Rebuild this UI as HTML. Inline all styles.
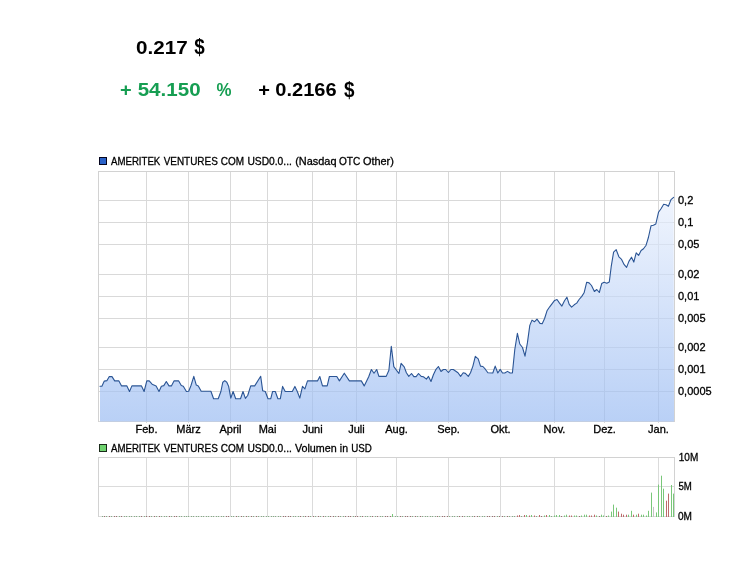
<!DOCTYPE html>
<html lang="de"><head><meta charset="utf-8"><title>AMERITEK VENTURES Chart</title>
<style>
html,body{margin:0;padding:0;background:#fff;}
body{width:753px;height:566px;overflow:hidden;position:relative;font-family:"Liberation Sans",sans-serif;}
svg{position:absolute;left:0;top:0;display:block}
.big{font-family:"Liberation Sans",sans-serif;font-weight:bold;font-size:19px;}
.ax{font-family:"Liberation Sans",sans-serif;font-size:11px;fill:#000;stroke:#000;stroke-width:0.3px;}
</style></head><body>
<svg width="753" height="566" viewBox="0 0 753 566">
<defs><linearGradient id="g" x1="0" y1="171" x2="0" y2="421" gradientUnits="userSpaceOnUse">
<stop offset="0" stop-color="#f2f6fe"/><stop offset="1" stop-color="#98baf2"/></linearGradient></defs>
<rect width="753" height="566" fill="#fff"/>
<text class="big" x="136.1" y="53.6" fill="#000" style="font-size:19px" textLength="51.7" lengthAdjust="spacingAndGlyphs">0.217</text>
<text class="big" x="194.2" y="54.0" fill="#000" style="font-size:22px" textLength="10.5" lengthAdjust="spacingAndGlyphs">$</text>
<text class="big" x="120.1" y="96.0" fill="#169e52" style="font-size:19px" textLength="11.7" lengthAdjust="spacingAndGlyphs">+</text>
<text class="big" x="137.7" y="96.0" fill="#169e52" style="font-size:19px" textLength="62.9" lengthAdjust="spacingAndGlyphs">54.150</text>
<text class="big" x="216.4" y="96.0" fill="#169e52" style="font-size:19px" textLength="15.0" lengthAdjust="spacingAndGlyphs">%</text>
<text class="big" x="258.2" y="96.0" fill="#000" style="font-size:19px" textLength="11.7" lengthAdjust="spacingAndGlyphs">+</text>
<text class="big" x="275.3" y="96.0" fill="#000" style="font-size:19px" textLength="61.3" lengthAdjust="spacingAndGlyphs">0.2166</text>
<text class="big" x="344.0" y="96.6" fill="#000" style="font-size:22.5px" textLength="10.5" lengthAdjust="spacingAndGlyphs">$</text>
<rect x="99.5" y="157.5" width="7" height="7" fill="#2a62c8" stroke="#05051e" stroke-width="1"/>
<text class="ax" x="111.0" y="165" textLength="49.3" lengthAdjust="spacingAndGlyphs">AMERITEK</text><text class="ax" x="163.7" y="165" textLength="54.1" lengthAdjust="spacingAndGlyphs">VENTURES</text><text class="ax" x="220.8" y="165" textLength="23.3" lengthAdjust="spacingAndGlyphs">COM</text><text class="ax" x="247.4" y="165" textLength="44.5" lengthAdjust="spacingAndGlyphs">USD0.0...</text><text class="ax" x="295.2" y="165" textLength="41.3" lengthAdjust="spacingAndGlyphs">(Nasdaq</text><text class="ax" x="339.0" y="165" textLength="21.3" lengthAdjust="spacingAndGlyphs">OTC</text><text class="ax" x="362.9" y="165" textLength="31.0" lengthAdjust="spacingAndGlyphs">Other)</text>
<path d="M146.5,171V423 M188.5,171V423 M230.5,171V423 M267.5,171V423 M312.5,171V423 M356.5,171V423 M396.5,171V423 M448.5,171V423 M500.5,171V423 M554.5,171V423 M604.5,171V423 M658.5,171V423 M98,200.5H675 M98,222.5H675 M98,244.5H675 M98,274.5H675 M98,296.5H675 M98,318.5H675 M98,347.5H675 M98,369.5H675 M98,391.5H675 M98,421.5H675" stroke="#d9d9d9" stroke-width="1" fill="none" shape-rendering="crispEdges"/>
<path d="M100,421.6 L100.0,386.2 L101.9,386.2 L104.3,381.1 L107.0,380.6 L109.3,376.6 L112.0,376.6 L114.7,380.9 L118.9,380.9 L121.6,385.9 L126.9,385.9 L129.5,391.5 L131.9,385.9 L141.5,385.9 L144.1,391.5 L146.8,380.9 L149.2,380.9 L152.1,384.2 L156.1,385.9 L159.0,391.5 L161.4,386.2 L163.8,385.6 L166.3,381.5 L169.0,385.9 L171.4,385.9 L174.0,380.9 L178.7,380.9 L181.3,385.5 L183.3,386.2 L186.4,391.5 L188.7,391.2 L191.0,385.5 L193.8,376.3 L196.3,385.1 L198.3,385.9 L201.2,391.2 L210.9,391.2 L213.6,398.8 L218.2,398.8 L220.9,391.5 L222.8,382.2 L224.8,380.6 L226.8,382.2 L228.6,386.2 L230.8,398.1 L233.1,391.5 L235.7,398.8 L240.5,398.8 L243.0,391.5 L245.4,398.4 L247.7,395.5 L250.7,385.9 L254.7,385.9 L260.7,376.3 L262.7,390.8 L265.3,391.5 L268.0,398.8 L270.7,398.8 L272.6,391.5 L275.3,391.5 L277.9,398.8 L280.3,398.8 L282.6,386.4 L285.2,391.5 L292.3,391.5 L294.9,386.4 L297.3,391.5 L299.8,398.1 L302.5,386.4 L304.9,388.8 L307.5,380.9 L317.5,380.9 L319.8,376.5 L322.5,385.9 L327.2,385.9 L329.4,376.5 L336.8,376.5 L339.4,380.9 L344.3,373.2 L349.4,380.9 L361.3,380.9 L364.2,385.9 L368.7,376.8 L371.4,369.5 L374.0,373.2 L376.7,369.5 L378.9,376.4 L386.2,376.4 L388.9,370.2 L391.3,346.3 L393.8,366.6 L398.9,373.5 L401.1,363.3 L404.2,366.9 L406.4,372.8 L408.8,376.4 L411.5,373.5 L413.9,376.6 L416.1,376.6 L418.5,373.5 L421.2,376.4 L423.4,376.8 L426.4,379.1 L428.5,376.4 L431.0,381.5 L433.4,374.8 L436.0,369.3 L438.4,366.5 L441.0,371.5 L443.4,369.5 L445.7,369.5 L448.4,372.5 L450.9,369.5 L453.3,369.5 L458.0,372.8 L460.6,376.4 L463.2,372.8 L465.4,373.4 L468.3,376.4 L470.5,372.8 L472.9,366.1 L475.3,356.4 L478.2,358.8 L480.5,366.1 L482.9,366.5 L485.3,369.2 L487.9,372.8 L492.8,373.0 L495.2,366.1 L497.8,373.0 L500.2,369.4 L502.5,373.0 L504.8,373.0 L507.5,371.4 L510.1,373.0 L512.4,373.0 L514.8,349.5 L517.4,333.3 L519.8,344.0 L522.5,347.5 L525.0,356.2 L527.4,342.9 L529.8,325.4 L532.0,320.1 L534.4,321.8 L537.0,319.1 L540.0,323.4 L542.2,323.8 L544.6,318.5 L547.0,310.8 L549.7,306.8 L554.6,300.4 L557.0,299.5 L559.5,303.1 L561.9,306.1 L564.5,300.8 L566.9,297.2 L569.2,304.4 L571.6,307.2 L574.2,304.8 L576.7,303.1 L579.1,299.5 L581.8,296.4 L584.1,292.8 L586.7,282.2 L589.1,282.9 L591.5,285.5 L594.4,291.5 L596.8,289.5 L599.3,292.5 L601.7,283.6 L604.1,282.2 L606.8,283.2 L609.3,282.0 L611.2,266.7 L613.6,252.1 L616.2,249.7 L618.9,256.8 L621.6,259.4 L624.2,264.7 L626.6,267.4 L628.9,261.4 L631.5,257.2 L633.8,262.1 L636.2,252.8 L638.6,255.4 L641.1,250.5 L643.5,248.8 L646.1,245.2 L648.4,237.5 L651.0,225.8 L653.4,225.3 L655.8,224.0 L658.5,212.3 L661.0,208.7 L663.7,204.3 L666.0,204.7 L668.4,206.3 L671.0,199.6 L673.6,197.3 L674.0,421.6 Z" fill="url(#g)" fill-opacity="0.68"/>
<path d="M98.5,422V171.5H674.5V422" stroke="#d2d2d2" fill="none" shape-rendering="crispEdges"/>
<path d="M100.0,386.2 L101.9,386.2 L104.3,381.1 L107.0,380.6 L109.3,376.6 L112.0,376.6 L114.7,380.9 L118.9,380.9 L121.6,385.9 L126.9,385.9 L129.5,391.5 L131.9,385.9 L141.5,385.9 L144.1,391.5 L146.8,380.9 L149.2,380.9 L152.1,384.2 L156.1,385.9 L159.0,391.5 L161.4,386.2 L163.8,385.6 L166.3,381.5 L169.0,385.9 L171.4,385.9 L174.0,380.9 L178.7,380.9 L181.3,385.5 L183.3,386.2 L186.4,391.5 L188.7,391.2 L191.0,385.5 L193.8,376.3 L196.3,385.1 L198.3,385.9 L201.2,391.2 L210.9,391.2 L213.6,398.8 L218.2,398.8 L220.9,391.5 L222.8,382.2 L224.8,380.6 L226.8,382.2 L228.6,386.2 L230.8,398.1 L233.1,391.5 L235.7,398.8 L240.5,398.8 L243.0,391.5 L245.4,398.4 L247.7,395.5 L250.7,385.9 L254.7,385.9 L260.7,376.3 L262.7,390.8 L265.3,391.5 L268.0,398.8 L270.7,398.8 L272.6,391.5 L275.3,391.5 L277.9,398.8 L280.3,398.8 L282.6,386.4 L285.2,391.5 L292.3,391.5 L294.9,386.4 L297.3,391.5 L299.8,398.1 L302.5,386.4 L304.9,388.8 L307.5,380.9 L317.5,380.9 L319.8,376.5 L322.5,385.9 L327.2,385.9 L329.4,376.5 L336.8,376.5 L339.4,380.9 L344.3,373.2 L349.4,380.9 L361.3,380.9 L364.2,385.9 L368.7,376.8 L371.4,369.5 L374.0,373.2 L376.7,369.5 L378.9,376.4 L386.2,376.4 L388.9,370.2 L391.3,346.3 L393.8,366.6 L398.9,373.5 L401.1,363.3 L404.2,366.9 L406.4,372.8 L408.8,376.4 L411.5,373.5 L413.9,376.6 L416.1,376.6 L418.5,373.5 L421.2,376.4 L423.4,376.8 L426.4,379.1 L428.5,376.4 L431.0,381.5 L433.4,374.8 L436.0,369.3 L438.4,366.5 L441.0,371.5 L443.4,369.5 L445.7,369.5 L448.4,372.5 L450.9,369.5 L453.3,369.5 L458.0,372.8 L460.6,376.4 L463.2,372.8 L465.4,373.4 L468.3,376.4 L470.5,372.8 L472.9,366.1 L475.3,356.4 L478.2,358.8 L480.5,366.1 L482.9,366.5 L485.3,369.2 L487.9,372.8 L492.8,373.0 L495.2,366.1 L497.8,373.0 L500.2,369.4 L502.5,373.0 L504.8,373.0 L507.5,371.4 L510.1,373.0 L512.4,373.0 L514.8,349.5 L517.4,333.3 L519.8,344.0 L522.5,347.5 L525.0,356.2 L527.4,342.9 L529.8,325.4 L532.0,320.1 L534.4,321.8 L537.0,319.1 L540.0,323.4 L542.2,323.8 L544.6,318.5 L547.0,310.8 L549.7,306.8 L554.6,300.4 L557.0,299.5 L559.5,303.1 L561.9,306.1 L564.5,300.8 L566.9,297.2 L569.2,304.4 L571.6,307.2 L574.2,304.8 L576.7,303.1 L579.1,299.5 L581.8,296.4 L584.1,292.8 L586.7,282.2 L589.1,282.9 L591.5,285.5 L594.4,291.5 L596.8,289.5 L599.3,292.5 L601.7,283.6 L604.1,282.2 L606.8,283.2 L609.3,282.0 L611.2,266.7 L613.6,252.1 L616.2,249.7 L618.9,256.8 L621.6,259.4 L624.2,264.7 L626.6,267.4 L628.9,261.4 L631.5,257.2 L633.8,262.1 L636.2,252.8 L638.6,255.4 L641.1,250.5 L643.5,248.8 L646.1,245.2 L648.4,237.5 L651.0,225.8 L653.4,225.3 L655.8,224.0 L658.5,212.3 L661.0,208.7 L663.7,204.3 L666.0,204.7 L668.4,206.3 L671.0,199.6 L673.6,197.3" fill="none" stroke="#2b5595" stroke-width="1.1" stroke-linejoin="round" stroke-linecap="round"/>
<text class="ax" x="146.5" y="433" text-anchor="middle">Feb.</text><text class="ax" x="188.5" y="433" text-anchor="middle">März</text><text class="ax" x="230.5" y="433" text-anchor="middle">April</text><text class="ax" x="267.5" y="433" text-anchor="middle">Mai</text><text class="ax" x="312.5" y="433" text-anchor="middle">Juni</text><text class="ax" x="356.5" y="433" text-anchor="middle">Juli</text><text class="ax" x="396.5" y="433" text-anchor="middle">Aug.</text><text class="ax" x="448.5" y="433" text-anchor="middle">Sep.</text><text class="ax" x="500.5" y="433" text-anchor="middle">Okt.</text><text class="ax" x="554.5" y="433" text-anchor="middle">Nov.</text><text class="ax" x="604.5" y="433" text-anchor="middle">Dez.</text><text class="ax" x="658.5" y="433" text-anchor="middle">Jan.</text>
<text class="ax" x="678" y="203.6">0,2</text><text class="ax" x="678" y="225.6">0,1</text><text class="ax" x="678" y="247.6">0,05</text><text class="ax" x="678" y="277.6">0,02</text><text class="ax" x="678" y="299.6">0,01</text><text class="ax" x="678" y="321.6">0,005</text><text class="ax" x="678" y="350.6">0,002</text><text class="ax" x="678" y="372.6">0,001</text><text class="ax" x="678" y="394.6">0,0005</text>
<rect x="99.5" y="444.5" width="7" height="7" fill="#6fd36f" stroke="#1a2a1a" stroke-width="1"/>
<text class="ax" x="111.0" y="452" textLength="49.3" lengthAdjust="spacingAndGlyphs">AMERITEK</text><text class="ax" x="163.7" y="452" textLength="54.1" lengthAdjust="spacingAndGlyphs">VENTURES</text><text class="ax" x="220.8" y="452" textLength="23.3" lengthAdjust="spacingAndGlyphs">COM</text><text class="ax" x="247.4" y="452" textLength="44.5" lengthAdjust="spacingAndGlyphs">USD0.0...</text><text class="ax" x="294.9" y="452" textLength="41.8" lengthAdjust="spacingAndGlyphs">Volumen</text><text class="ax" x="339.8" y="452" textLength="8.2" lengthAdjust="spacingAndGlyphs">in</text><text class="ax" x="351.2" y="452" textLength="20.6" lengthAdjust="spacingAndGlyphs">USD</text>
<path d="M146.5,457V517 M188.5,457V517 M230.5,457V517 M267.5,457V517 M312.5,457V517 M356.5,457V517 M396.5,457V517 M448.5,457V517 M500.5,457V517 M554.5,457V517 M604.5,457V517 M658.5,457V517 M98,486.5H675 M98,516.5H675" stroke="#000" stroke-opacity="0.14" fill="none" shape-rendering="crispEdges"/>
<path d="M98.5,517V457.5H674.5V517" stroke="#d2d2d2" fill="none" shape-rendering="crispEdges"/>
<path d="M673.5,517v-23.4 M671.5,517v-32.0 M663.5,517v-28.3 M661.5,517v-41.3 M658.5,517v-32.4 M656.5,517v-4.6 M651.5,517v-24.4 M648.5,517v-6.2 M646.5,517v-1.5 M643.5,517v-2.3 M641.5,517v-2.3 M636.5,517v-2.3 M631.5,517v-6.2 M628.5,517v-2.3 M616.5,517v-9.3 M613.5,517v-12.4 M611.5,517v-5.4 M608.5,517v-1.5 M603.5,517v-1.5 M601.5,517v-2.3 M596.5,517v-1.5 M586.5,517v-2.3 M584.5,517v-2.3 M581.5,517v-1.5 M576.5,517v-1.5 M574.5,517v-1.5 M566.5,517v-2.3 M564.5,517v-1.5 M559.5,517v-2.0 M556.5,517v-2.0 M554.5,517v-1.5 M549.5,517v-2.0 M544.5,517v-1.5 M531.5,517v-2.0 M526.5,517v-2.0 M392.5,517v-3.0" stroke="#79c779" stroke-width="1" fill="none"/>
<path d="M668.5,517v-23.4 M666.5,517v-16.3 M638.5,517v-3.3 M633.5,517v-2.3 M626.5,517v-2.3 M623.5,517v-2.3 M621.5,517v-3.3 M618.5,517v-5.4 M594.5,517v-2.3 M591.5,517v-1.5 M589.5,517v-1.5 M571.5,517v-1.5 M569.5,517v-1.5 M546.5,517v-2.0 M539.5,517v-2.0 M534.5,517v-1.5 M529.5,517v-1.5 M524.5,517v-2.0 M519.5,517v-2.0 M517.5,517v-1.5" stroke="#bd6b6b" stroke-width="1" fill="none"/>
<path d="M653.5,517v-10.1" stroke="#c4c4c4" stroke-width="1" fill="none"/>
<path d="M551.5,517v-1.0 M536.5,517v-1.0 M521.5,517v-1.0 M514.5,517v-1.0 M512.5,517v-1.0 M509.5,517v-1.0 M504.5,517v-1.0 M497.5,517v-1.0 M484.5,517v-1.0 M482.5,517v-1.0 M479.5,517v-1.0 M472.5,517v-1.0 M469.5,517v-1.0 M467.5,517v-1.0 M464.5,517v-1.0 M457.5,517v-1.0 M454.5,517v-1.0 M452.5,517v-1.0 M449.5,517v-1.0 M439.5,517v-1.0 M435.5,517v-1.0 M432.5,517v-1.0 M430.5,517v-1.0 M427.5,517v-1.0 M425.5,517v-1.0 M422.5,517v-1.0 M417.5,517v-1.0 M412.5,517v-1.0 M402.5,517v-1.0 M397.5,517v-1.0 M395.5,517v-1.0 M382.5,517v-1.0 M380.5,517v-1.0 M375.5,517v-1.0 M370.5,517v-1.0 M367.5,517v-1.0 M365.5,517v-1.0 M360.5,517v-1.0 M353.5,517v-1.0 M343.5,517v-1.0 M340.5,517v-1.0 M335.5,517v-1.0 M328.5,517v-1.0 M325.5,517v-1.0 M320.5,517v-1.0 M315.5,517v-1.0 M310.5,517v-1.0 M303.5,517v-1.0 M298.5,517v-1.0 M295.5,517v-1.0 M293.5,517v-1.0 M280.5,517v-1.0 M278.5,517v-1.0 M275.5,517v-1.0 M273.5,517v-1.0 M271.5,517v-1.0 M268.5,517v-1.0 M266.5,517v-1.0 M263.5,517v-1.0 M261.5,517v-1.0 M258.5,517v-1.0 M253.5,517v-1.0 M248.5,517v-1.0 M243.5,517v-1.0 M238.5,517v-1.0 M233.5,517v-1.0 M231.5,517v-1.0 M223.5,517v-1.0 M221.5,517v-1.0 M218.5,517v-1.0 M216.5,517v-1.0 M213.5,517v-1.0 M211.5,517v-1.0 M208.5,517v-1.0 M206.5,517v-1.0 M203.5,517v-1.0 M201.5,517v-1.0 M198.5,517v-1.0 M196.5,517v-1.0 M193.5,517v-1.0 M191.5,517v-1.0 M188.5,517v-1.0 M186.5,517v-1.0 M184.5,517v-1.0 M181.5,517v-1.0 M179.5,517v-1.0 M171.5,517v-1.0 M166.5,517v-1.0 M164.5,517v-1.0 M161.5,517v-1.0 M156.5,517v-1.0 M151.5,517v-1.0 M144.5,517v-1.0 M139.5,517v-1.0 M136.5,517v-1.0 M134.5,517v-1.0 M131.5,517v-1.0 M129.5,517v-1.0 M126.5,517v-1.0 M124.5,517v-1.0 M119.5,517v-1.0 M111.5,517v-1.0 M106.5,517v-1.0 M102.5,517v-1.0" stroke="#86ad86" stroke-width="1" fill="none"/>
<path d="M606.5,517v-1.0 M599.5,517v-1.0 M579.5,517v-1.0 M561.5,517v-1.0 M541.5,517v-1.0 M507.5,517v-1.0 M502.5,517v-1.0 M499.5,517v-1.0 M494.5,517v-1.0 M492.5,517v-1.0 M489.5,517v-1.0 M487.5,517v-1.0 M477.5,517v-1.0 M474.5,517v-1.0 M462.5,517v-1.0 M459.5,517v-1.0 M447.5,517v-1.0 M444.5,517v-1.0 M442.5,517v-1.0 M437.5,517v-1.0 M420.5,517v-1.0 M415.5,517v-1.0 M410.5,517v-1.0 M407.5,517v-1.0 M405.5,517v-1.0 M400.5,517v-1.0 M390.5,517v-1.0 M387.5,517v-1.0 M385.5,517v-1.0 M377.5,517v-1.0 M372.5,517v-1.0 M362.5,517v-1.0 M357.5,517v-1.0 M355.5,517v-1.0 M350.5,517v-1.0 M348.5,517v-1.0 M345.5,517v-1.0 M338.5,517v-1.0 M333.5,517v-1.0 M330.5,517v-1.0 M323.5,517v-1.0 M318.5,517v-1.0 M313.5,517v-1.0 M308.5,517v-1.0 M305.5,517v-1.0 M300.5,517v-1.0 M290.5,517v-1.0 M288.5,517v-1.0 M285.5,517v-1.0 M283.5,517v-1.0 M256.5,517v-1.0 M251.5,517v-1.0 M246.5,517v-1.0 M241.5,517v-1.0 M236.5,517v-1.0 M228.5,517v-1.0 M226.5,517v-1.0 M176.5,517v-1.0 M174.5,517v-1.0 M169.5,517v-1.0 M159.5,517v-1.0 M154.5,517v-1.0 M149.5,517v-1.0 M146.5,517v-1.0 M141.5,517v-1.0 M121.5,517v-1.0 M116.5,517v-1.0 M114.5,517v-1.0 M109.5,517v-1.0 M104.5,517v-1.0" stroke="#9a7070" stroke-width="1" fill="none"/>
<text class="ax" x="678.8" y="461" textLength="19.5" lengthAdjust="spacingAndGlyphs">10M</text><text class="ax" x="678.5" y="490" textLength="13.4" lengthAdjust="spacingAndGlyphs">5M</text><text class="ax" x="677.9" y="520" textLength="14.0" lengthAdjust="spacingAndGlyphs">0M</text>
</svg>
</body></html>
